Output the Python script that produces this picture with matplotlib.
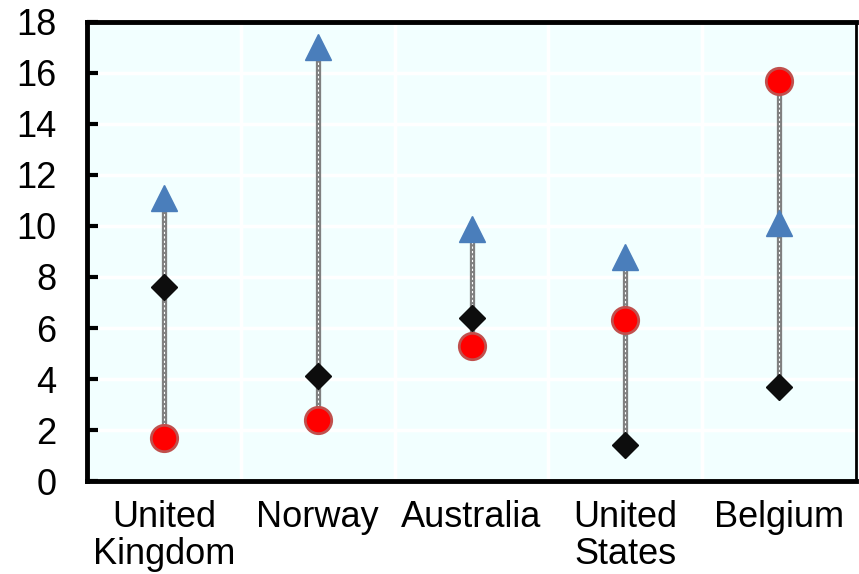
import matplotlib
matplotlib.use("Agg")
import matplotlib.pyplot as plt
import numpy as np

plt.rcParams['font.family'] = ['Liberation Sans', 'DejaVu Sans']

categories = ["United\nKingdom", "Norway", "Australia", "United\nStates", "Belgium"]
triangle_vals = [11.1, 17.0, 9.9, 8.8, 10.1]
diamond_vals = [7.6, 4.1, 6.4, 1.4, 3.7]
circle_vals = [1.7, 2.4, 5.3, 6.3, 15.7]

fig = plt.figure(figsize=(8.59, 5.74), dpi=100)
ax = fig.add_axes([0.1013, 0.162, 0.8952, 0.7997])
ax.set_facecolor('#f2ffff')

x = np.arange(len(categories))
lo = np.minimum(np.minimum(triangle_vals, diamond_vals), circle_vals)
hi = np.maximum(np.maximum(triangle_vals, diamond_vals), circle_vals)
ax.vlines(x, lo, hi, colors='#808080', linewidth=3.8, zorder=2)
ax.vlines(x, lo, hi, colors='white', linewidth=0.8, linestyles=(0, (2, 2)), zorder=2.1)

ax.plot(x, triangle_vals, linestyle='none', marker='^', markersize=18.5,
        color='#4a7ebb', markeredgecolor='#4a7ebb', zorder=3)
ax.plot(x, diamond_vals, linestyle='none', marker='D', markersize=13,
        color='#0d0d0d', markeredgecolor='#0d0d0d', zorder=3)
ax.plot(x, circle_vals, linestyle='none', marker='o', markersize=19,
        color='#ff0000', markeredgecolor='#c0504d', markeredgewidth=2, zorder=3)

ax.set_xlim(-0.5, len(categories) - 0.5)
ax.set_ylim(0, 18)
ax.set_yticks(np.arange(0, 19, 2))
ax.set_xticks(x)
ax.set_xticklabels(categories, linespacing=1.05)
ax.set_xticks(np.arange(-0.5, len(categories), 1), minor=True)
ax.grid(True, which='minor', axis='x', color='white', linewidth=2.5)
ax.grid(True, which='major', axis='y', color='white', linewidth=2.5)
ax.set_axisbelow(True)

ax.tick_params(axis='y', which='major', labelsize=26, length=8, width=3, direction='in', pad=22)
ax.tick_params(axis='x', which='both', labelsize=26, length=0, pad=14)

for side in ['left', 'bottom', 'top']:
    ax.spines[side].set_linewidth(3.5)
    ax.spines[side].set_color('black')
ax.spines['right'].set_linewidth(2)
ax.spines['right'].set_color('black')

fig.savefig('out.png', dpi=100)
